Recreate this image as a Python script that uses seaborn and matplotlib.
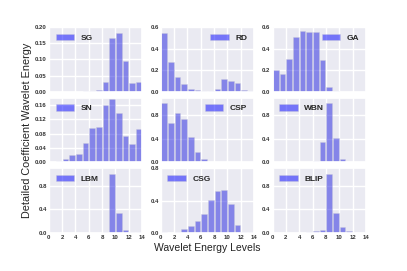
import numpy as np
import pandas as pd
import matplotlib
matplotlib.use("Agg")
import matplotlib.pyplot as plt
import seaborn as sns
from matplotlib.patches import Patch

levels = np.arange(14)

sg = [0.001, 0.001, 0.001, 0.001, 0.001, 0.002, 0.003, 0.005, 0.029, 0.167, 0.181, 0.094, 0.027, 0.030]
rd = [0.547, 0.281, 0.141, 0.069, 0.031, 0.013, 0.008, 0.008, 0.022, 0.116, 0.097, 0.078, 0.019, 0.010]
ga = [0.203, 0.166, 0.300, 0.512, 0.566, 0.559, 0.553, 0.294, 0.041, 0.009, 0.003, 0.002, 0.002, 0.002]
sn = [0.002, 0.004, 0.009, 0.021, 0.024, 0.055, 0.095, 0.098, 0.159, 0.176, 0.137, 0.074, 0.052, 0.094]
csp = [0.994, 0.663, 0.834, 0.737, 0.429, 0.171, 0.051, 0.011, 0.006, 0.002, 0.002, 0.002, 0.002, 0.002]
wbn = [0.002, 0.002, 0.002, 0.002, 0.002, 0.008, 0.017, 0.343, 0.994, 0.411, 0.051, 0.011, 0.002, 0.002]
lbm = [0.003, 0.003, 0.003, 0.003, 0.003, 0.004, 0.005, 0.006, 0.023, 0.993, 0.346, 0.057, 0.017, 0.023]
csg = [0.008, 0.004, 0.017, 0.046, 0.088, 0.154, 0.238, 0.404, 0.525, 0.529, 0.354, 0.100, 0.017, 0.008]
blip = [0.004, 0.004, 0.004, 0.004, 0.006, 0.011, 0.034, 0.057, 0.993, 0.346, 0.108, 0.028, 0.006, 0.002]

names = ["SG", "RD", "GA", "SN", "CSP", "WBN", "LBM", "CSG", "BLIP"]
series = [sg, rd, ga, sn, csp, wbn, lbm, csg, blip]
legend_loc = ["upper left", "upper right", "upper right", "upper left", "upper right",
              "upper left", "upper left", "upper left", "upper left"]
ylims = [0.20, 0.60, 0.60, 0.18, 1.09, 1.09, 1.09, 0.80, 1.09]
yticks = [[0, 0.05, 0.10, 0.15, 0.20], [0, 0.2, 0.4, 0.6], [0, 0.2, 0.4, 0.6],
          [0, 0.04, 0.08, 0.12, 0.16], [0, 0.4, 0.8], [0, 0.4, 0.8], [0, 0.4, 0.8],
          [0, 0.4, 0.8], [0, 0.4, 0.8]]
yfmt = ["%.2f", "%.1f", "%.1f", "%.2f", "%.1f", "%.1f", "%.1f", "%.1f", "%.1f"]

sns.set_theme(style="darkgrid")
plt.rcParams["font.family"] = ["Liberation Sans", "DejaVu Sans"]

fig, axes = plt.subplots(3, 3, figsize=(4.07, 2.71), dpi=100, sharex=True)
fig.subplots_adjust(left=0.120, right=0.899, top=0.900, bottom=0.140, wspace=0.2, hspace=0.09)

for i, ax in enumerate(axes.flat):
    df = pd.DataFrame({"level": levels + 0.5, "energy": series[i]})
    sns.barplot(data=df, x="level", y="energy", native_scale=True, color="blue",
                alpha=0.5, width=0.85, edgecolor="#c8c8d8", linewidth=0.5,
                errorbar=None, ax=ax)
    ax.set_xlim(0, 14)
    ax.set_xticks(range(0, 15, 2))
    ax.set_ylim(0, ylims[i])
    ax.set_yticks(yticks[i])
    ax.set_yticklabels([yfmt[i] % v for v in yticks[i]])
    ax.set_xlabel("")
    ax.set_ylabel("")
    ax.tick_params(labelsize=4.3, pad=1.5, length=0)
    for lab in ax.get_xticklabels() + ax.get_yticklabels():
        lab.set_fontweight("bold")
        lab.set_color("#333333")
    handle = Patch(facecolor="blue", alpha=0.5, edgecolor="#c8c8d8", linewidth=0.5)
    ax.legend(handles=[handle], labels=[names[i]], loc=legend_loc[i], frameon=False,
              prop={"size": 6, "weight": "bold"}, handlelength=2.2, handleheight=0.8,
              borderaxespad=0.4)

fig.text(0.066, 0.52, "Detailed Coefficient Wavelet Energy", rotation=90,
         ha="center", va="center", fontsize=7.8, color="#222222")
fig.text(0.51, 0.085, "Wavelet Energy Levels", ha="center", va="center",
         fontsize=7.5, color="#222222")

fig.savefig("out.png", dpi=100)
